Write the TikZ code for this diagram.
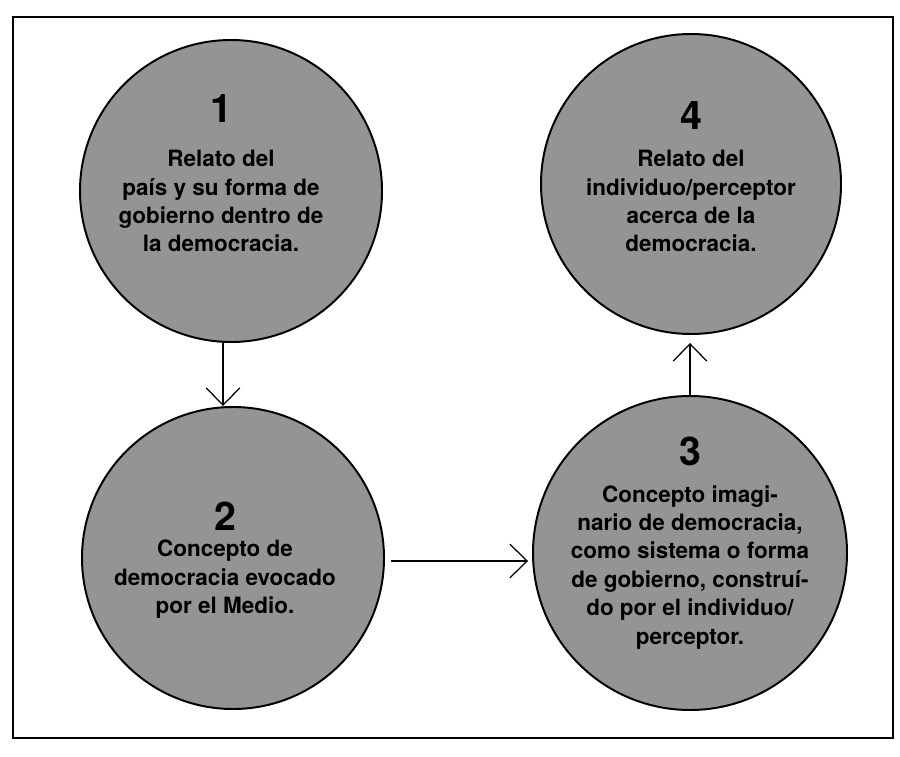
\documentclass[tikz,border=0pt]{standalone}
\usepackage{fontspec}
\setmainfont{TeX Gyre Heros}
\usetikzlibrary{arrows.meta, positioning}

\begin{document}
\begin{tikzpicture}[
    bubble/.style={circle, draw=black, line width=1.4pt, fill=black!42, minimum size=#1, inner sep=0pt},
    numlabel/.style={anchor=base, inner sep=0pt, font=\bfseries\fontsize{28}{30}\selectfont},
    bubbletext/.style={anchor=north, inner sep=0pt, align=center, font=\bfseries\fontsize{16}{20.2}\selectfont},
    flow/.style={line width=0.9pt, -{Straight Barb[length=4.3mm, width=8.4mm]}}
  ]
  \useasboundingbox (0,0) rectangle (22.5,18.9);
  \draw     [line width=1.2pt]      (0.325,0.45) rectangle (22.325,18.475);     % frame

  % the four circles
  \node     [bubble=7.55cm]  (c1)   at (5.775,14.125)  {};
  \node     [bubble=7.55cm]  (c2)   at (5.825,4.95)    {};
  \node     [bubble=7.85cm]  (c3)   at (17.25,5.075)   {};
  \node     [bubble=7.5cm]   (c4)   at (17.275,14.3)   {};

  % numbers
  \node     [numlabel]       (n1)   at ([shift={(-0.25,1.7)}]c1.center)  {1};
  \node     [numlabel]       (n2)   at ([shift={(-0.2,0.7)}]c2.center)   {2};
  \node     [numlabel]       (n3)   at ([shift={(0,2.2)}]c3.center)      {3};
  \node     [numlabel]       (n4)   at ([shift={(0,1.35)}]c4.center)     {4};

  % texts
  \node     [bubbletext]     (t1)   at ([shift={(-0.25,1.025)}]c1.center)
            {Relato del\\ país y su forma de\\ gobierno dentro de\\ la democracia.};
  \node     [bubbletext]     (t2)   at ([shift={(-0.2,0.45)}]c2.center)
            {Concepto de\\ democracia evocado\\ por el Medio.};
  \node     [bubbletext]     (t3)   at ([shift={(0,1.7)}]c3.center)
            {Concepto imagi-\\ nario de democracia,\\ como sistema o forma\\ de gobierno, construí-\\ do por el individuo/\\ perceptor.};
  \node     [bubbletext]     (t4)   at ([shift={(0,0.85)}]c4.center)
            {Relato del\\ individuo/perceptor\\ acerca de la\\ democracia.};

  % arrows
  \draw     [flow]                  ([xshift=-0.2cm]c1.south) -- ([xshift=-0.2cm]c1.south |- c2.north);   % 1 to 2
  \draw     [flow, shorten <=0.15cm, shorten >=0.1cm]
                                    ([yshift=-0.075cm]c2.east) -- ([yshift=-0.075cm]c2.east -| c3.west); % 2 to 3
  \draw     [flow, shorten >=0.2cm] (c3.north) -- (c3.north |- c4.south);                             % 3 to 4
\end{tikzpicture}
\end{document}
